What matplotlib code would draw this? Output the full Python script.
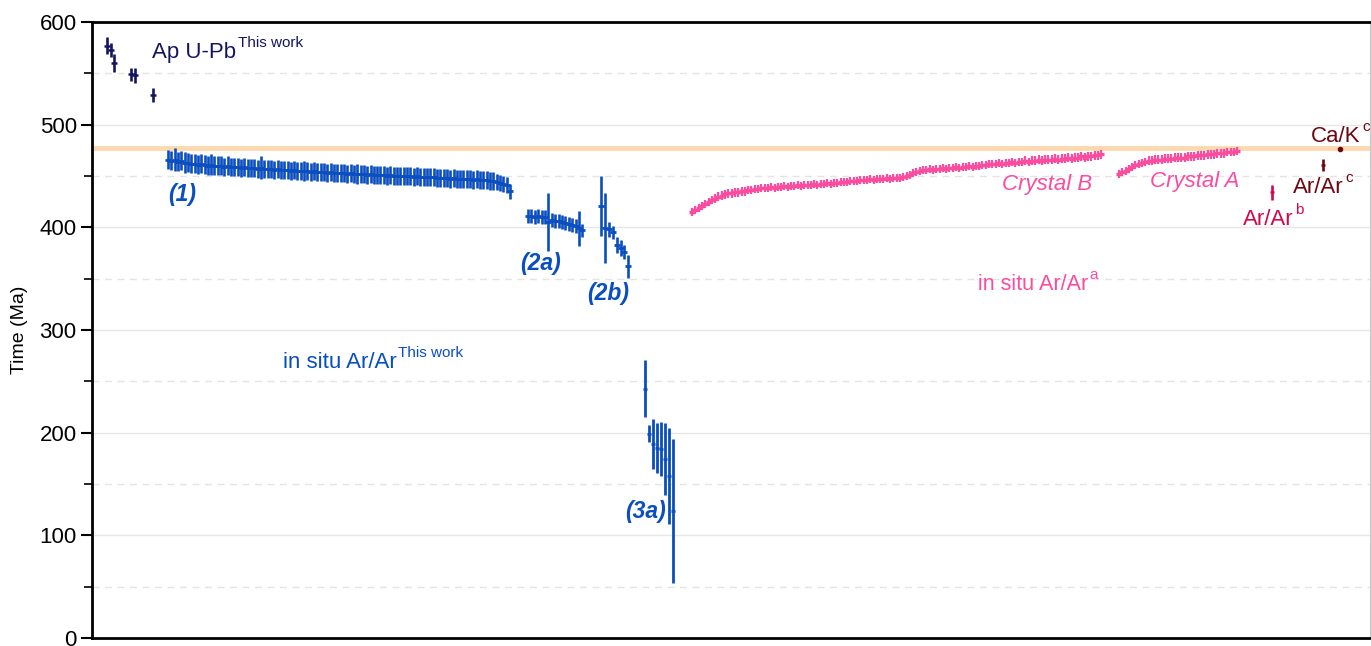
import matplotlib
matplotlib.use('Agg')
import matplotlib.pyplot as plt
from matplotlib.ticker import MultipleLocator
import numpy as np

plt.rcParams['font.family'] = ['Liberation Sans', 'DejaVu Sans']

# ---------------- data ----------------
# Apatite U-Pb (this work)
ap_x = [107, 111, 114, 131, 135, 153]
ap_age = [577, 573, 560, 549, 548, 529]
ap_err = [8, 7, 9, 6.5, 7.5, 7]

# in situ Ar/Ar (this work) group (1)
g1_age = [466, 465, 466, 464, 465, 463, 463, 462, 462, 461,
          462, 461, 460, 461, 460, 460, 460, 459, 460, 459,
          459, 459, 458, 459, 458, 458, 458, 457, 458, 457,
          457, 457, 456, 457, 456, 456, 456, 455, 456, 455,
          455, 455, 455, 454, 455, 454, 454, 454, 453, 454,
          453, 453, 453, 453, 452, 453, 452, 452, 452, 452,
          451, 452, 451, 451, 451, 451, 450, 451, 450, 450,
          450, 450, 450, 450, 449, 450, 449, 449, 449, 449,
          449, 448, 448, 448, 448, 447, 448, 447, 447, 447,
          447, 447, 446, 447, 446, 446, 446, 445, 445, 444,
          443, 442, 441, 435]
g1_err = [9, 9, 11, 9, 9, 10, 9, 9, 9, 9,
          9, 9, 9, 10, 9, 9, 9, 9, 9, 9,
          9, 9, 9, 9, 9, 9, 9, 9, 11, 9,
          9, 9, 9, 9, 9, 9, 9, 9, 9, 9,
          9, 10, 9, 9, 9, 9, 9, 9, 9, 9,
          9, 9, 9, 9, 9, 9, 9, 10, 9, 9,
          9, 9, 9, 9, 9, 9, 9, 9, 9, 9,
          9, 9, 9, 9, 9, 9, 9, 9, 9, 9,
          9, 9, 9, 9, 9, 9, 9, 9, 9, 9,
          9, 9, 9, 9, 9, 9, 9, 9, 9, 8,
          8, 8, 8, 7]

# group (2a)
g2a_age = [411, 411, 410, 411, 410, 410, 405, 407, 406, 406, 405, 404, 403, 402, 401, 399, 397]
g2a_err = [7, 7, 7, 7, 7, 7, 28, 7, 7, 7, 7, 7, 7, 7, 7, 17, 6]

# group (2b)
g2b_age = [421, 399, 398, 395, 383, 380, 376, 362]
g2b_err = [29, 34, 7, 6, 8, 8, 7, 11]

# group (3a)
g3a_age = [243, 199, 189, 185, 184, 174, 158, 124]
g3a_err = [28, 8, 24, 24, 26, 35, 47, 70]

# in situ Ar/Ar (ref a) Crystal B
cb_age = [415, 417, 419, 421, 423, 425, 427, 428, 430, 431,
          432, 433, 433, 434, 434, 435, 435, 436, 436, 437, 437, 438,
          438, 438, 439, 438, 439, 439, 440, 439, 440, 440, 441, 440, 441, 441, 441,
          442, 441, 442, 442, 443, 442, 443, 443, 444, 444, 444, 445, 445, 445, 446,
          446, 446, 447, 446, 447, 447, 447, 448, 447, 448, 448, 448, 449, 450,
          451, 453, 454, 455, 456, 456,
          457, 456, 457, 457, 458, 457, 458, 458, 459, 458, 459, 459, 460, 459, 460, 460, 461, 461, 462,
          462, 462, 463, 462, 463, 463, 464, 463, 464, 464, 465, 464, 465, 465, 466, 465, 466, 466, 466,
          467, 466, 467, 467, 468, 467, 468, 468, 469, 468, 469, 469, 470, 470, 471]
cb_err = 4

# Crystal A
ca_age = [452, 454, 455, 457, 459, 461, 462, 463, 464, 465,
          465, 466, 466, 466, 467, 467, 467, 468, 468, 468,
          468, 469, 469, 469, 470, 470, 470, 471, 471, 471,
          472, 472, 472, 473, 473, 473, 474]
ca_err = 4

# other references
arb_age, arb_err = 434, 7
arc_age, arc_err = 461, 6
cak_age = 476
ref_line = 477

# ---------------- colours ----------------
navy = '#15155f'
blue = '#0b4ebf'
pink = '#fb4ca0'
crimson = '#d1084d'
maroon = '#6e0712'

fig = plt.figure(figsize=(13.71, 6.46), dpi=100)
ax = fig.add_axes([92/1371, 8/646, 1278/1371, 616/646])
ax.set_xlim(92, 1370)
ax.set_ylim(0, 600)


def seq(start, step, n):
    return start + step * np.arange(n)


def eb(x, y, e, color, elw, ms, mew):
    ax.errorbar(x, y, yerr=e, fmt='_', color=color, ecolor=color,
                elinewidth=elw, ms=ms, mew=mew, capsize=0, zorder=3)


ax.axhline(ref_line, color='#fdd9b0', lw=3.5, zorder=1)

eb(ap_x, ap_age, ap_err, navy, 1.9, 4, 1.8)
eb(seq(168, 3.32, len(g1_age)), g1_age, g1_err, blue, 1.9, 4.5, 2.0)
eb(seq(528, 3.4, len(g2a_age)), g2a_age, g2a_err, blue, 1.9, 4.5, 2.0)
eb(seq(601, 3.9, len(g2b_age)), g2b_age, g2b_err, blue, 1.9, 4, 2.0)
eb(seq(645, 4.0, len(g3a_age)), g3a_age, g3a_err, blue, 2.0, 3, 2.0)
eb(seq(692, 3.3, len(cb_age)), cb_age, cb_err, pink, 1.6, 4.5, 2.4)
eb(seq(1119, 3.28, len(ca_age)), ca_age, ca_err, pink, 1.6, 4.5, 2.4)
eb([1272], [arb_age], [arb_err], crimson, 1.9, 3, 1.8)
eb([1323], [arc_age], [arc_err], maroon, 1.9, 3, 1.8)
ax.plot([1340], [cak_age], 'o', color=maroon, ms=3, zorder=3)

# grid
ax.yaxis.set_major_locator(MultipleLocator(100))
ax.yaxis.set_minor_locator(MultipleLocator(50))
ax.grid(True, axis='y', which='major', color='#e6e6e6', lw=1, zorder=0)
ax.grid(True, axis='y', which='minor', color='#e4e4e4', lw=1, ls=(0, (5, 4)), zorder=0)
ax.set_axisbelow(True)
ax.set_xticks([])
ax.tick_params(axis='y', which='major', length=8, width=1.5, labelsize=16, direction='out', pad=3)
ax.tick_params(axis='y', which='minor', length=6, width=1.2, direction='out')
for s in ['left', 'top', 'bottom']:
    ax.spines[s].set_linewidth(2)
    ax.spines[s].set_color('black')
ax.spines['right'].set_linewidth(0.8)
ax.spines['right'].set_color('#c8c8c8')
ax.set_ylabel('Time (Ma)', fontsize=14, labelpad=8)


def label(x, y, main, sup, color, size=16, style='normal', weight='normal'):
    t = ax.text(x, y, main, color=color, fontsize=size, ha='left', va='baseline',
                style=style, weight=weight, zorder=4)
    if sup:
        ax.annotate(sup, xy=(1.0, 0.76), xycoords=t, xytext=(1, 0), textcoords='offset points',
                    fontsize=11, color=color, ha='left', va='baseline', zorder=4)
    return t


label(152, 565, 'Ap U-Pb', 'This work', navy)
label(283, 263, 'in situ Ar/Ar', 'This work', blue)
label(168, 426, '(1)', None, blue, size=16.5, style='italic', weight='bold')
label(520, 358, '(2a)', None, blue, size=16.5, style='italic', weight='bold')
label(587, 329, '(2b)', None, blue, size=16.5, style='italic', weight='bold')
label(625, 117, '(3a)', None, blue, size=16.5, style='italic', weight='bold')
label(978, 339, 'in situ Ar/Ar', 'a', pink, size=15.5)
label(1002, 436, 'Crystal B', None, pink, style='italic')
label(1150, 439, 'Crystal A', None, pink, style='italic')
label(1243, 402, 'Ar/Ar', 'b', crimson)
label(1293, 433, 'Ar/Ar', 'c', maroon)
label(1311, 483, 'Ca/K', 'c', maroon)

fig.savefig('out.png', dpi=100)
